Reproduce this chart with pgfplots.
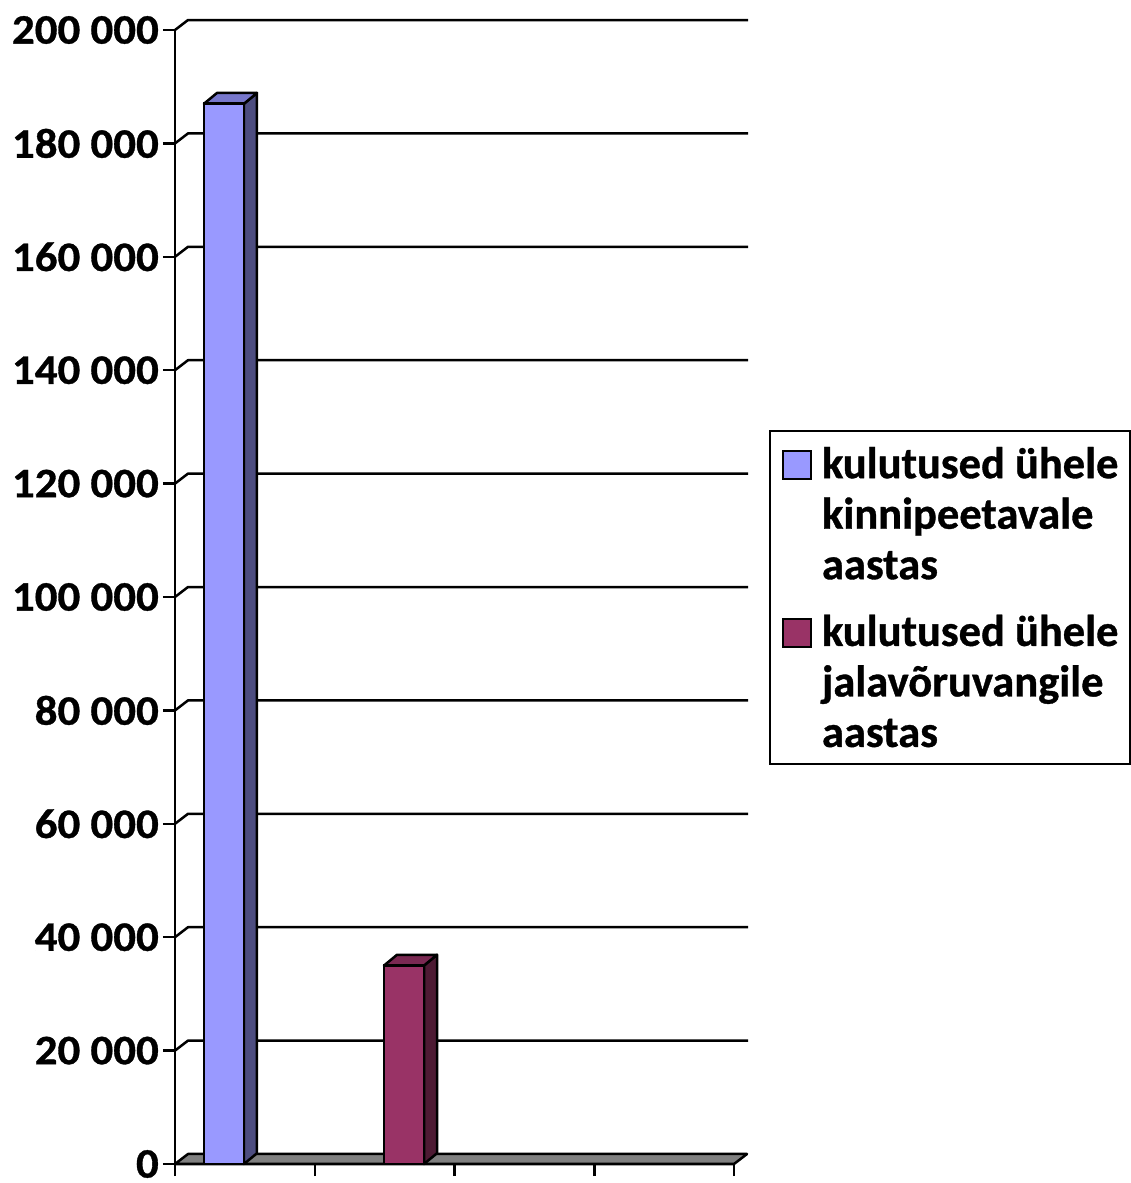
\documentclass[border=0pt]{standalone}
\usepackage{pgfplots}
\pgfplotsset{compat=1.18}
\usepackage{fontspec}
\setmainfont{Carlito}
\newfontfamily\tickfont{Carlito Bold}[FakeStretch=1.07, FakeBold=0.8]
\newfontfamily\legfont{Carlito Bold}[FakeBold=0.8]
\definecolor{bluefront}{HTML}{9999FF}
\definecolor{bluetop}{HTML}{7777CC}
\definecolor{blueside}{HTML}{4D4D80}
\definecolor{redfront}{HTML}{993366}
\definecolor{redtop}{HTML}{7A2952}
\definecolor{redside}{HTML}{4D1A33}
\definecolor{floorgray}{HTML}{808080}
\begin{document}
\begin{tikzpicture}
\useasboundingbox (0,0) rectangle (1131pt,1183pt);
\begin{axis}[
  at={(175pt,19pt)}, anchor=south west,
  scale only axis, width=559pt, height=1134pt,
  xmin=0, xmax=4, ymin=0, ymax=200000,
  clip=false,
  axis lines*=left,
  axis line style={line width=2.5pt, black},
  xtick={0,1,2,3,4}, xticklabel=\empty,
  ytick={0,20000,40000,60000,80000,100000,120000,140000,160000,180000,200000},
  yticklabels={0,20 000,40 000,60 000,80 000,100 000,120 000,140 000,160 000,180 000,200 000},
  scaled y ticks=false,
  tick align=outside,
  major tick length=12pt,
  every tick/.style={line width=2.5pt, black},
  yticklabel style={font=\tickfont\fontsize{42}{42}\selectfont, inner sep=0pt, xshift=-4pt},
  legend style={at={(axis description cs:1.0626,0.6473)}, anchor=north west,
    draw=black, line width=2pt,
    font=\legfont\fontsize{44.5}{50.5}\selectfont,
    cells={anchor=west, align=left},
    nodes={inner sep=0pt},
    inner xsep=12pt, inner ysep=16pt,
    column sep=10pt, row sep=34pt},
]
% back wall gridlines
\pgfplotsinvokeforeach{20000,40000,60000,80000,100000,120000,140000,160000,180000,200000}{
  \draw[line width=2.5pt, line join=round] (axis cs:0,#1) -- ++(13pt,10pt) -- ++(560pt,0pt);
}
% floor
\filldraw[fill=floorgray, draw=black, line width=2.5pt, line join=round]
  (axis cs:0,0) -- (axis cs:4,0) -- ++(13pt,10pt) -- ++(-559pt,0pt) -- cycle;
% bar 1
\addplot[forget plot, fill=blueside, draw=black, line width=2.5pt, line join=round]
  coordinates {(0.4937,0) (0.4937,187000) (0.5867,188900) (0.5867,1900)} -- cycle;
\addplot[forget plot, fill=bluetop, draw=black, line width=2.5pt, line join=round]
  coordinates {(0.2075,187000) (0.4937,187000) (0.5867,188900) (0.3005,188900)} -- cycle;
\addplot[ybar, bar width=0.2862, bar shift=0pt, fill=bluefront, draw=black, line width=2.5pt,
  legend image code/.code={\draw[fill=bluefront, draw=black, line width=2pt] (0pt,35pt) rectangle (28pt,63pt);}]
  coordinates {(0.3506,187000)};
\addlegendentry{kulutused ühele\\kinnipeetavale\\aastas}
% bar 2
\addplot[forget plot, fill=redside, draw=black, line width=2.5pt, line join=round]
  coordinates {(1.7818,0) (1.7818,35000) (1.8748,36900) (1.8748,1900)} -- cycle;
\addplot[forget plot, fill=redtop, draw=black, line width=2.5pt, line join=round]
  coordinates {(1.4955,35000) (1.7818,35000) (1.8748,36900) (1.5885,36900)} -- cycle;
\addplot[ybar, bar width=0.2862, bar shift=0pt, fill=redfront, draw=black, line width=2.5pt,
  legend image code/.code={\draw[fill=redfront, draw=black, line width=2pt] (0pt,35pt) rectangle (28pt,63pt);}]
  coordinates {(1.6387,35000)};
\addlegendentry{kulutused ühele\\jalavõruvangile\\aastas}
\end{axis}
\end{tikzpicture}
\end{document}
